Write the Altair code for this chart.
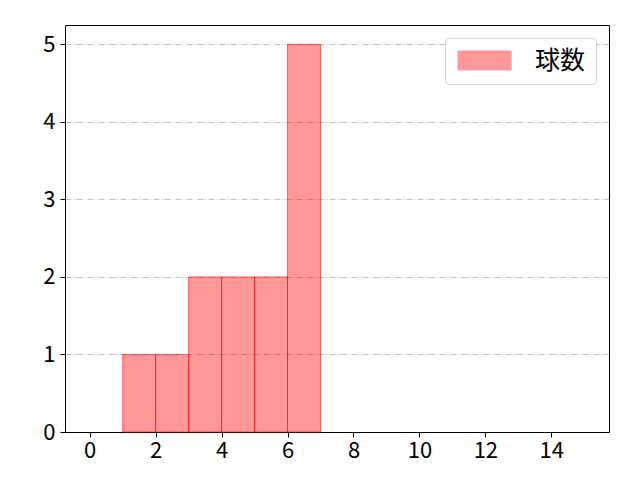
import altair as alt
import pandas as pd

bin_start = [1, 2, 3, 4, 5, 6]
bin_end = [2, 3, 4, 5, 6, 7]
counts = [1, 1, 2, 2, 2, 5]
series = ["球数"] * 6

df = pd.DataFrame({"x0": bin_start, "x1": bin_end, "count": counts, "series": series})

FONT = "Noto Sans CJK JP"

bars = alt.Chart(df).mark_rect(
    fillOpacity=0.4, stroke="red", strokeOpacity=0.55, strokeWidth=1
).encode(
    x=alt.X("x0:Q", scale=alt.Scale(domain=[-0.75, 15.75], nice=False, zero=False),
            axis=alt.Axis(values=[0, 2, 4, 6, 8, 10, 12, 14], grid=False, title=None,
                          labelFontSize=22, tickSize=5, domain=False, labelPadding=3)),
    x2="x1:Q",
    y=alt.Y("count:Q", scale=alt.Scale(domain=[0, 5.25], nice=False),
            axis=alt.Axis(values=[0, 1, 2, 3, 4, 5], grid=True, gridColor="#b0b0b0",
                          gridDash=[6, 2, 1, 2], gridWidth=0.8, title=None,
                          gridOpacity={"condition": {"test": "datum.value === 0", "value": 0}, "value": 1},
                          labelFontSize=22, tickSize=5, domain=False, labelPadding=5)),
    y2=alt.datum(0),
    color=alt.Color("series:N", scale=alt.Scale(range=["red"]),
                    legend=alt.Legend(title=None, orient="top-right",
                                      symbolType="M-1,-1L4.58,-1L4.58,1L-1,1Z",
                                      symbolSize=361, symbolOpacity=0.4,
                                      symbolStrokeColor="red", symbolStrokeWidth=1,
                                      labelFontSize=25, labelFont=FONT, labelColor="black",
                                      fillColor="white", strokeColor="#d0d0d0",
                                      cornerRadius=4, padding=10, offset=13,
                                      labelOffset=55)),
)

chart = bars.properties(
    width=544, height=407,
    autosize=alt.AutoSizeParams(type="none"),
    padding={"left": 57, "top": 17, "right": 23, "bottom": 40},
).configure_view(stroke="black", strokeWidth=1).configure_axis(
    labelFont=FONT, labelColor="black", tickColor="black"
)

chart.save("out.html", embed_options={"renderer": "svg", "actions": False})
